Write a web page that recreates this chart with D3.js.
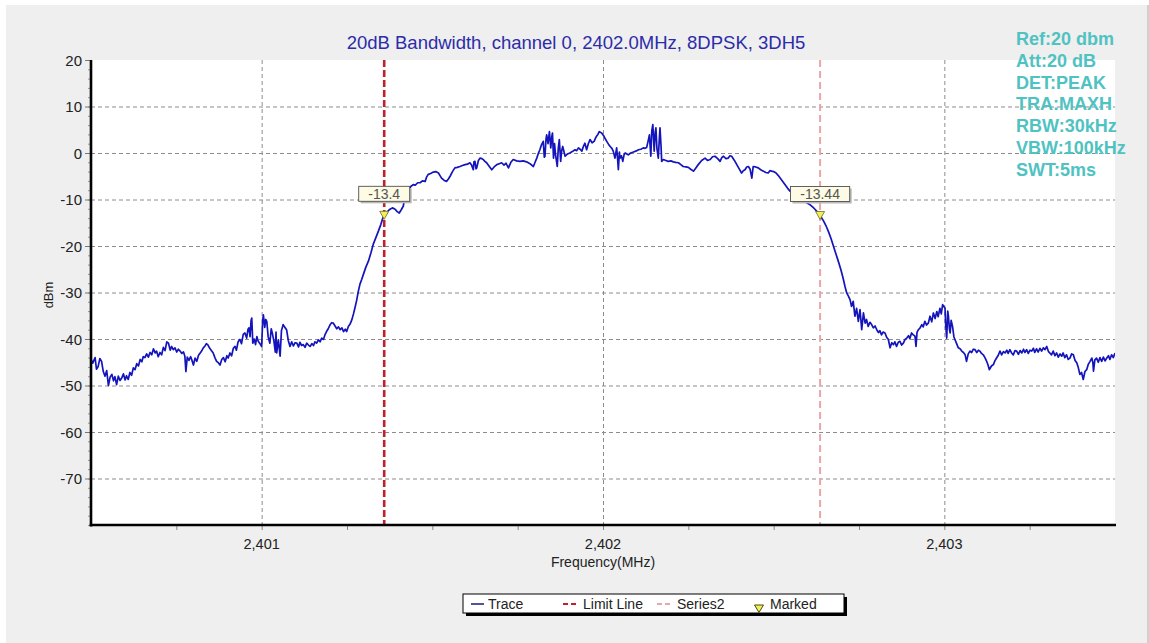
<!DOCTYPE html>
<html>
<head>
<meta charset="utf-8">
<script src="https://cdn.jsdelivr.net/npm/d3@7"></script>
<style>
  html, body { margin: 0; padding: 0; background: #ffffff; }
  svg { display: block; font-family: "Liberation Sans", Arial, sans-serif; }
</style>
</head>
<body>
<svg id="chart" width="1149" height="643"></svg>
<script>
// ---------------- DATA ----------------
const titleText = "20dB Bandwidth, channel 0, 2402.0MHz, 8DPSK, 3DH5";
const infoLines = ["Ref:20 dbm", "Att:20 dB", "DET:PEAK", "TRA:MAXH", "RBW:30kHz", "VBW:100kHz", "SWT:5ms"];
const xDomain = [2400.5, 2403.5];
const yDomain = [-80, 20];
const xMajorTicks = [2401, 2402, 2403];
const xMinorTicks = [2400.75, 2401, 2401.25, 2401.5, 2401.75, 2402, 2402.25, 2402.5, 2402.75, 2403, 2403.25];
const yTicks = [20, 10, 0, -10, -20, -30, -40, -50, -60, -70];
const yGrid = [10, 0, -10, -20, -30, -40, -50, -60, -70];
const limitLineFreq = 2401.359;
const series2Freq = 2402.636;
const markerFreq = [2401.359, 2402.636];
const markerLevel = [-13.4, -13.44];
const markerLabel = ["-13.4", "-13.44"];
const legendNames = ["Trace", "Limit Line", "Series2", "Marked"];

// Trace: [frequency MHz, level dBm]
const traceLow = [
[2400.500,-44.4],[2400.505,-45.2],[2400.512,-44.0],[2400.516,-46.5],[2400.521,-45.9],[2400.526,-44.2],[2400.531,-44.8],[2400.536,-47.0],[2400.541,-48.0],[2400.546,-46.8],[2400.551,-50.0],[2400.556,-48.2],[2400.561,-47.6],[2400.566,-49.0],[2400.570,-48.1],[2400.575,-49.8],[2400.580,-48.0],[2400.585,-48.9],[2400.590,-48.4],[2400.595,-47.5],[2400.600,-48.8],[2400.604,-47.9],[2400.609,-48.7],[2400.614,-47.2],[2400.619,-47.8],[2400.624,-46.2],[2400.629,-46.6],[2400.634,-45.3],[2400.639,-45.8],[2400.644,-44.4],[2400.649,-44.9],[2400.653,-43.8],[2400.658,-44.0],[2400.663,-43.2],[2400.668,-43.9],[2400.673,-42.9],[2400.678,-43.4],[2400.683,-42.1],[2400.688,-43.0],[2400.692,-42.6],[2400.697,-43.8],[2400.702,-42.9],[2400.707,-43.4],[2400.712,-41.8],[2400.717,-42.5],[2400.722,-40.6],[2400.727,-40.9],[2400.732,-42.4],[2400.736,-41.6],[2400.741,-42.3],[2400.746,-41.9],[2400.751,-42.8],[2400.756,-42.2],[2400.761,-42.6],[2400.766,-43.1],[2400.771,-42.8],[2400.775,-43.7],[2400.778,-47.0],[2400.782,-43.9],[2400.787,-44.6],[2400.792,-43.8],[2400.795,-44.4],[2400.800,-45.6],[2400.805,-44.1],[2400.810,-44.8],[2400.815,-43.5],[2400.820,-43.0],[2400.824,-42.6],[2400.829,-41.9],[2400.834,-41.5],[2400.838,-41.0],[2400.842,-41.2],[2400.847,-41.9],[2400.852,-42.4],[2400.858,-43.0],[2400.863,-44.0],[2400.868,-44.8],[2400.873,-45.1],[2400.878,-45.6],[2400.883,-44.4],[2400.888,-44.0],[2400.893,-44.9],[2400.898,-43.6],[2400.902,-44.1],[2400.907,-43.0],[2400.912,-43.6],[2400.917,-42.0],[2400.922,-41.6],[2400.926,-42.4],[2400.931,-40.6],[2400.936,-40.1],[2400.941,-41.0],[2400.946,-39.0],[2400.951,-38.7],[2400.956,-39.8],[2400.960,-37.9],[2400.963,-37.6],[2400.966,-39.5],[2400.969,-36.0],[2400.971,-35.5],[2400.974,-40.9],[2400.978,-40.0],[2400.982,-41.2],[2400.986,-39.5],[2400.990,-40.5],[2400.995,-41.0],[2401.000,-41.6],[2401.003,-36.0],[2401.005,-34.8],[2401.009,-37.5],[2401.012,-35.8],[2401.015,-36.2],[2401.019,-39.5],[2401.024,-40.9],[2401.028,-37.8],[2401.031,-38.7],[2401.036,-40.5],[2401.040,-42.8],[2401.042,-38.5],[2401.044,-43.0],[2401.049,-40.2],[2401.054,-43.7],[2401.058,-38.2],[2401.063,-36.9],[2401.068,-37.5],[2401.073,-38.0],[2401.078,-40.3],[2401.083,-41.6],[2401.088,-40.6],[2401.093,-41.5],[2401.098,-40.8],[2401.103,-40.9],[2401.108,-41.7],[2401.112,-40.7],[2401.117,-41.4],[2401.122,-41.2],[2401.127,-41.8],[2401.132,-40.9],[2401.137,-41.3],[2401.142,-41.6],[2401.147,-41.0],[2401.152,-41.4],[2401.156,-40.6],[2401.161,-40.9],[2401.166,-40.2],[2401.171,-40.6],[2401.176,-39.8],[2401.181,-40.1],[2401.186,-39.0],[2401.190,-38.4],[2401.195,-37.8],[2401.200,-37.0],[2401.205,-36.5],[2401.210,-36.6],[2401.215,-37.2],[2401.220,-37.8],[2401.225,-37.4],[2401.230,-38.0],[2401.235,-37.6],[2401.240,-38.4],[2401.245,-37.9],[2401.249,-38.4]
];
const traceRise = [
[2401.254,-37.3],[2401.259,-36.8],[2401.264,-35.9],[2401.269,-34.6],[2401.273,-33.4],[2401.278,-31.8],[2401.283,-29.8],[2401.288,-28.2],[2401.293,-27.2],[2401.298,-26.1],[2401.305,-24.6],[2401.313,-23.2],[2401.320,-21.5],[2401.327,-19.6],[2401.334,-18.3],[2401.342,-16.8],[2401.349,-15.4],[2401.355,-14.0],[2401.359,-13.4],[2401.366,-13.0],[2401.371,-12.4],[2401.376,-12.1],[2401.383,-11.8],[2401.391,-12.1],[2401.397,-12.6],[2401.403,-12.9],[2401.409,-12.2],[2401.415,-11.4],[2401.420,-9.2],[2401.425,-8.5],[2401.430,-7.9],[2401.437,-7.2],[2401.444,-6.8],[2401.450,-6.9],[2401.457,-6.4],[2401.464,-6.4],[2401.471,-6.0],[2401.479,-6.1],[2401.483,-5.2],[2401.488,-4.6],[2401.495,-4.4],[2401.503,-4.1],[2401.510,-4.0],[2401.518,-4.3],[2401.522,-4.8],[2401.527,-5.4],[2401.535,-5.9],[2401.542,-6.1],[2401.547,-5.6],[2401.552,-5.0],[2401.559,-4.0],[2401.566,-3.2],[2401.573,-3.1],[2401.581,-2.9],[2401.588,-2.7],[2401.596,-2.5],[2401.603,-2.4],[2401.610,-2.1],[2401.615,-2.6],[2401.620,-3.6],[2401.622,-1.9],[2401.625,-1.8],[2401.628,-3.4],[2401.630,-3.2],[2401.635,-1.6],[2401.640,-1.1],[2401.645,-1.2],[2401.649,-1.4],[2401.654,-1.8],[2401.659,-2.1],[2401.667,-2.9],[2401.674,-3.6],[2401.681,-3.0],[2401.689,-2.5],[2401.696,-2.3],[2401.703,-2.1],[2401.710,-2.6],[2401.716,-2.2],[2401.718,-2.5],[2401.723,-3.2],[2401.730,-2.0],[2401.737,-1.4],[2401.747,-1.7],[2401.757,-1.8],[2401.766,-1.7],[2401.776,-1.9],[2401.786,-2.3],[2401.796,-2.9]
];
const tracePeak = [
[2401.801,-2.0],[2401.806,-1.1],[2401.810,-0.2],[2401.815,0.7],[2401.820,1.8],[2401.825,2.5],[2401.828,-0.9],[2401.830,-0.7],[2401.833,3.0],[2401.835,3.9],[2401.839,2.0],[2401.843,4.6],[2401.847,1.1],[2401.850,3.5],[2401.852,4.3],[2401.855,-1.1],[2401.858,2.0],[2401.861,-0.4],[2401.866,-2.9],[2401.869,1.0],[2401.872,2.9],[2401.876,-1.8],[2401.879,0.5],[2401.882,1.4],[2401.889,-0.7],[2401.896,-0.2],[2401.903,0.0],[2401.910,0.3],[2401.918,0.7],[2401.923,0.5],[2401.928,1.1],[2401.933,0.8],[2401.938,0.4],[2401.943,1.5],[2401.947,2.1],[2401.952,0.7],[2401.957,2.0],[2401.962,2.9],[2401.968,2.2],[2401.974,2.5],[2401.978,3.2],[2401.981,3.6],[2401.985,4.0],[2401.989,4.6],[2401.996,4.3],[2402.003,3.6],[2402.007,3.0],[2402.011,2.5],[2402.016,1.9],[2402.021,1.4],[2402.026,1.0],[2402.030,0.4],[2402.035,-1.1],[2402.040,1.1],[2402.043,-1.5],[2402.045,-3.6],[2402.048,0.2],[2402.050,-1.1],[2402.054,-0.6],[2402.058,-1.8],[2402.062,-0.3],[2402.065,0.0],[2402.070,-0.2],[2402.074,-0.4],[2402.081,0.0],[2402.089,0.2],[2402.096,0.4],[2402.104,0.7],[2402.111,0.8],[2402.118,1.1],[2402.123,1.0],[2402.128,1.2],[2402.132,2.5],[2402.136,3.9],[2402.140,-0.7],[2402.143,4.8],[2402.146,6.1],[2402.150,0.4],[2402.153,4.5],[2402.155,5.4],[2402.158,1.0],[2402.162,-1.1],[2402.165,3.0],[2402.167,5.4],[2402.170,1.5],[2402.172,-1.8],[2402.177,-1.4],[2402.184,-1.6],[2402.191,-1.8],[2402.199,-1.7],[2402.206,-1.9],[2402.213,-2.0],[2402.221,-2.1],[2402.228,-2.5],[2402.235,-2.9],[2402.243,-3.0],[2402.250,-3.1],[2402.257,-3.5],[2402.265,-3.9],[2402.272,-3.2],[2402.279,-2.5],[2402.289,-1.6]
];
const traceFall = [
[2402.299,-1.1],[2402.306,-1.6],[2402.314,-1.4],[2402.321,-0.8],[2402.328,-0.7],[2402.336,-1.2],[2402.343,-1.8],[2402.348,-1.0],[2402.353,-0.7],[2402.360,-1.2],[2402.367,-1.1],[2402.372,-0.6],[2402.377,-0.7],[2402.385,-1.6],[2402.392,-2.5],[2402.399,-3.4],[2402.406,-4.3],[2402.411,-3.8],[2402.416,-3.6],[2402.421,-3.0],[2402.426,-2.9],[2402.431,-3.5],[2402.436,-5.4],[2402.440,-2.9],[2402.447,-3.0],[2402.455,-3.2],[2402.462,-3.6],[2402.470,-3.9],[2402.477,-4.2],[2402.484,-4.3],[2402.489,-3.8],[2402.494,-3.9],[2402.500,-4.0],[2402.507,-4.3],[2402.513,-4.8],[2402.519,-5.4],[2402.526,-6.1],[2402.533,-6.8],[2402.541,-7.6],[2402.548,-8.2],[2402.555,-8.0],[2402.563,-8.6],[2402.570,-9.2],[2402.577,-9.6],[2402.585,-10.0],[2402.592,-10.4],[2402.599,-10.8],[2402.606,-11.1],[2402.614,-11.6],[2402.621,-12.1],[2402.627,-12.6],[2402.636,-13.44],[2402.646,-14.6],[2402.653,-15.6],[2402.660,-16.8],[2402.668,-18.4],[2402.675,-20.0],[2402.682,-21.6],[2402.689,-23.2],[2402.697,-25.1],[2402.704,-27.1],[2402.709,-28.7]
];
const traceHigh = [
[2402.714,-30.1],[2402.719,-30.8],[2402.724,-31.6],[2402.728,-33.0],[2402.733,-31.9],[2402.738,-35.1],[2402.743,-33.4],[2402.748,-36.2],[2402.753,-33.7],[2402.758,-38.0],[2402.763,-34.4],[2402.768,-36.6],[2402.772,-35.8],[2402.777,-37.3],[2402.782,-36.4],[2402.787,-36.9],[2402.792,-37.6],[2402.797,-37.2],[2402.802,-38.0],[2402.807,-38.6],[2402.811,-38.2],[2402.816,-39.1],[2402.821,-38.5],[2402.826,-38.7],[2402.831,-39.6],[2402.836,-40.1],[2402.841,-41.9],[2402.846,-40.8],[2402.851,-41.2],[2402.855,-40.6],[2402.860,-41.6],[2402.865,-40.7],[2402.870,-40.5],[2402.875,-41.3],[2402.880,-40.9],[2402.885,-40.1],[2402.890,-39.8],[2402.895,-39.3],[2402.899,-39.9],[2402.904,-38.7],[2402.909,-39.1],[2402.914,-39.4],[2402.917,-41.6],[2402.920,-38.6],[2402.924,-38.0],[2402.929,-37.6],[2402.934,-36.9],[2402.938,-37.4],[2402.943,-36.2],[2402.948,-37.0],[2402.953,-36.6],[2402.958,-35.1],[2402.963,-36.3],[2402.968,-34.4],[2402.973,-35.6],[2402.978,-34.1],[2402.982,-35.2],[2402.987,-33.4],[2402.991,-34.6],[2402.995,-32.6],[2403.002,-33.4],[2403.004,-37.0],[2403.007,-39.8],[2403.010,-34.0],[2403.012,-35.1],[2403.015,-37.9],[2403.017,-38.7],[2403.020,-36.0],[2403.024,-37.3],[2403.028,-39.5],[2403.031,-40.1],[2403.036,-41.0],[2403.041,-41.9],[2403.046,-42.1],[2403.051,-42.6],[2403.056,-42.9],[2403.061,-43.4],[2403.065,-44.8],[2403.070,-43.2],[2403.075,-42.6],[2403.080,-42.9],[2403.085,-42.2],[2403.090,-42.3],[2403.095,-42.9],[2403.100,-42.4],[2403.104,-42.6],[2403.109,-43.1],[2403.114,-43.4],[2403.119,-44.0],[2403.124,-44.8],[2403.128,-45.6],[2403.132,-46.6],[2403.138,-45.8],[2403.144,-45.5],[2403.148,-44.7],[2403.153,-44.1],[2403.158,-43.5],[2403.163,-42.6],[2403.168,-43.4],[2403.173,-42.7],[2403.178,-43.0],[2403.183,-42.4],[2403.187,-43.1],[2403.192,-42.3],[2403.197,-43.0],[2403.202,-43.4],[2403.207,-42.5],[2403.212,-42.6],[2403.217,-43.3],[2403.222,-42.5],[2403.227,-43.0],[2403.232,-42.2],[2403.236,-42.9],[2403.241,-42.3],[2403.246,-43.1],[2403.251,-42.4],[2403.256,-42.6],[2403.261,-42.0],[2403.265,-42.9],[2403.270,-42.1],[2403.275,-42.8],[2403.280,-42.0],[2403.285,-42.6],[2403.290,-41.9],[2403.295,-42.3],[2403.300,-41.6],[2403.305,-42.7],[2403.309,-43.0],[2403.314,-43.4],[2403.319,-42.6],[2403.324,-43.6],[2403.329,-43.0],[2403.334,-43.9],[2403.339,-43.2],[2403.344,-43.7],[2403.348,-43.0],[2403.353,-44.0],[2403.358,-43.4],[2403.363,-44.4],[2403.368,-44.1],[2403.373,-43.2],[2403.378,-43.4],[2403.383,-44.6],[2403.388,-45.1],[2403.392,-46.0],[2403.397,-47.6],[2403.402,-47.2],[2403.407,-48.7],[2403.412,-47.0],[2403.417,-46.6],[2403.422,-45.4],[2403.427,-44.8],[2403.432,-44.1],[2403.435,-45.0],[2403.437,-46.9],[2403.441,-44.5],[2403.446,-44.1],[2403.451,-45.0],[2403.456,-44.0],[2403.461,-44.8],[2403.466,-43.9],[2403.471,-44.7],[2403.476,-44.1],[2403.481,-43.6],[2403.485,-44.4],[2403.490,-43.4],[2403.495,-44.0],[2403.500,-43.0]
];

// ---------------- LAYOUT ----------------
const W = 1149, H = 643;
const plot = { left: 91, right: 1115, top: 60, bottom: 525 };

const svg = d3.select("#chart");

// background panel
svg.append("rect").attr("x", 0).attr("y", 0).attr("width", W).attr("height", H).attr("fill", "#ffffff");
svg.append("rect").attr("x", 6).attr("y", 5).attr("width", 1141).attr("height", 638).attr("fill", "#efefef");
svg.append("rect").attr("x", 1147).attr("y", 5).attr("width", 2).attr("height", 638).attr("fill", "#d0d0d0");

// plot area
svg.append("rect").attr("x", plot.left).attr("y", plot.top)
  .attr("width", plot.right - plot.left).attr("height", plot.bottom - plot.top).attr("fill", "#ffffff");

const x = d3.scaleLinear().domain(xDomain).range([plot.left, plot.right]);
const y = d3.scaleLinear().domain(yDomain).range([plot.bottom, plot.top]);

svg.append("defs").append("clipPath").attr("id", "clip")
  .append("rect").attr("x", plot.left).attr("y", plot.top)
  .attr("width", plot.right - plot.left).attr("height", plot.bottom - plot.top);

// grid
const grid = svg.append("g");
grid.selectAll("line.h").data(yGrid).join("line")
  .attr("x1", plot.left).attr("x2", plot.right)
  .attr("y1", d => y(d) + 0.5).attr("y2", d => y(d) + 0.5)
  .attr("stroke", "#8c8c8c").attr("stroke-width", 1).attr("stroke-dasharray", "4,3");
grid.selectAll("line.v").data(xMajorTicks).join("line")
  .attr("x1", d => x(d) + 0.5).attr("x2", d => x(d) + 0.5)
  .attr("y1", plot.top).attr("y2", plot.bottom)
  .attr("stroke", "#8c8c8c").attr("stroke-width", 1).attr("stroke-dasharray", "4,3");

// y axis ticks (minor every 2)
const yMinor = d3.range(-80, 21, 2);
svg.append("g").selectAll("line").data(yMinor).join("line")
  .attr("x1", plot.left - 3).attr("x2", plot.left)
  .attr("y1", d => y(d) + 0.5).attr("y2", d => y(d) + 0.5)
  .attr("stroke", "#9a9a9a").attr("stroke-width", 1);
svg.append("g").selectAll("line").data(yTicks).join("line")
  .attr("x1", plot.left - 6).attr("x2", plot.left)
  .attr("y1", d => y(d) + 0.5).attr("y2", d => y(d) + 0.5)
  .attr("stroke", "#777").attr("stroke-width", 1);
svg.append("g").selectAll("text").data(yTicks).join("text")
  .attr("x", plot.left - 9).attr("y", d => y(d) + 5.5)
  .attr("text-anchor", "end").attr("font-size", 15).attr("fill", "#222")
  .text(d => d);

// x axis ticks
svg.append("g").selectAll("line").data(xMinorTicks).join("line")
  .attr("x1", d => x(d) + 0.5).attr("x2", d => x(d) + 0.5)
  .attr("y1", plot.bottom).attr("y2", plot.bottom + 5)
  .attr("stroke", "#888").attr("stroke-width", 1);
svg.append("g").selectAll("text").data(xMajorTicks).join("text")
  .attr("x", d => x(d)).attr("y", 549)
  .attr("text-anchor", "middle").attr("font-size", 14.5).attr("fill", "#222")
  .text(d => d3.format(",")(d));

// axis titles
svg.append("text").attr("x", x(2402)).attr("y", 567).attr("text-anchor", "middle")
  .attr("font-size", 14).attr("fill", "#222").text("Frequency(MHz)");
svg.append("text").attr("transform", "translate(53,295) rotate(-90)").attr("text-anchor", "middle")
  .attr("font-size", 13).attr("fill", "#222").text("dBm");

// limit line and series2
svg.append("line").attr("x1", x(limitLineFreq)).attr("x2", x(limitLineFreq))
  .attr("y1", plot.top).attr("y2", plot.bottom)
  .attr("stroke", "#c0202c").attr("stroke-width", 2.6).attr("stroke-dasharray", "7,3");
svg.append("line").attr("x1", x(series2Freq)).attr("x2", x(series2Freq))
  .attr("y1", plot.top).attr("y2", plot.bottom)
  .attr("stroke", "#eaa6a6").attr("stroke-width", 2).attr("stroke-dasharray", "7,4");

// trace
const trace = traceLow.concat(traceRise, tracePeak, traceFall, traceHigh);
const line = d3.line().x(d => x(d[0])).y(d => y(d[1]));
svg.append("path").datum(trace).attr("clip-path", "url(#clip)")
  .attr("d", line).attr("fill", "none")
  .attr("stroke", "#1414bc").attr("stroke-width", 1.7).attr("stroke-linejoin", "round");

// axes lines (thick)
svg.append("line").attr("x1", plot.left).attr("x2", plot.left).attr("y1", plot.top).attr("y2", plot.bottom + 1.5)
  .attr("stroke", "#000").attr("stroke-width", 2.6);
svg.append("line").attr("x1", plot.left - 1.3).attr("x2", plot.right + 1).attr("y1", plot.bottom).attr("y2", plot.bottom)
  .attr("stroke", "#000").attr("stroke-width", 2.6);

// markers
const markers = markerFreq.map((f, i) => ({ f, v: markerLevel[i], label: markerLabel[i] }));
const mg = svg.append("g");
markers.forEach(m => {
  const mx = x(m.f), my = y(m.v);
  mg.append("path")
    .attr("d", `M${mx - 4.5},${my - 4} L${mx + 4.5},${my - 4} L${mx},${my + 4} Z`)
    .attr("fill", "#f2ef5a").attr("stroke", "#6f6a20").attr("stroke-width", 0.8);
  const tw = m.label.length * 8.2 + 10;
  const bx = mx - tw / 2, by = my - 29;
  mg.append("rect").attr("x", bx + 2).attr("y", by + 2).attr("width", tw).attr("height", 15)
    .attr("fill", "#b8b8b8");
  mg.append("rect").attr("x", bx).attr("y", by).attr("width", tw).attr("height", 15)
    .attr("fill", "#fdfbe3").attr("stroke", "#505050").attr("stroke-width", 0.9);
  mg.append("text").attr("x", mx).attr("y", by + 12.5).attr("text-anchor", "middle")
    .attr("font-size", 14).attr("fill", "#555").text(m.label);
});

// title
svg.append("text").attr("x", 576).attr("y", 49).attr("text-anchor", "middle")
  .attr("font-size", 18.5).attr("fill", "#2c2caa").text(titleText);

// info block
svg.append("g").selectAll("text").data(infoLines).join("text")
  .attr("x", 1016).attr("y", (d, i) => 45 + i * 21.8)
  .attr("font-size", 18).attr("font-weight", "bold").attr("fill", "#4fc2c2")
  .text(d => d);

// legend
const lg = svg.append("g");
const lx = 463, ly = 594, lw = 381, lh = 19;
lg.append("rect").attr("x", lx + 3).attr("y", ly + 3).attr("width", lw).attr("height", lh).attr("fill", "#000");
lg.append("rect").attr("x", lx).attr("y", ly).attr("width", lw).attr("height", lh)
  .attr("fill", "#ffffff").attr("stroke", "#000").attr("stroke-width", 1);
const ty = ly + 15;
lg.append("line").attr("x1", 471).attr("x2", 484).attr("y1", ly + 10).attr("y2", ly + 10)
  .attr("stroke", "#1a1a7a").attr("stroke-width", 1.5);
lg.append("text").attr("x", 488).attr("y", ty).attr("font-size", 14).attr("fill", "#222").text(legendNames[0]);
lg.append("line").attr("x1", 563).attr("x2", 578).attr("y1", ly + 10).attr("y2", ly + 10)
  .attr("stroke", "#c0202c").attr("stroke-width", 2.2).attr("stroke-dasharray", "5,3");
lg.append("text").attr("x", 583).attr("y", ty).attr("font-size", 14).attr("fill", "#222").text(legendNames[1]);
lg.append("line").attr("x1", 657).attr("x2", 672).attr("y1", ly + 10).attr("y2", ly + 10)
  .attr("stroke", "#eaa6a6").attr("stroke-width", 1.8).attr("stroke-dasharray", "5,3");
lg.append("text").attr("x", 677).attr("y", ty).attr("font-size", 14).attr("fill", "#222").text(legendNames[2]);
lg.append("path").attr("d", "M754.5,605 L763.5,605 L759,612.5 Z")
  .attr("fill", "#f2ef5a").attr("stroke", "#4a4a10").attr("stroke-width", 1);
lg.append("text").attr("x", 770).attr("y", ty).attr("font-size", 14).attr("fill", "#222").text(legendNames[3]);
</script>
</body>
</html>
